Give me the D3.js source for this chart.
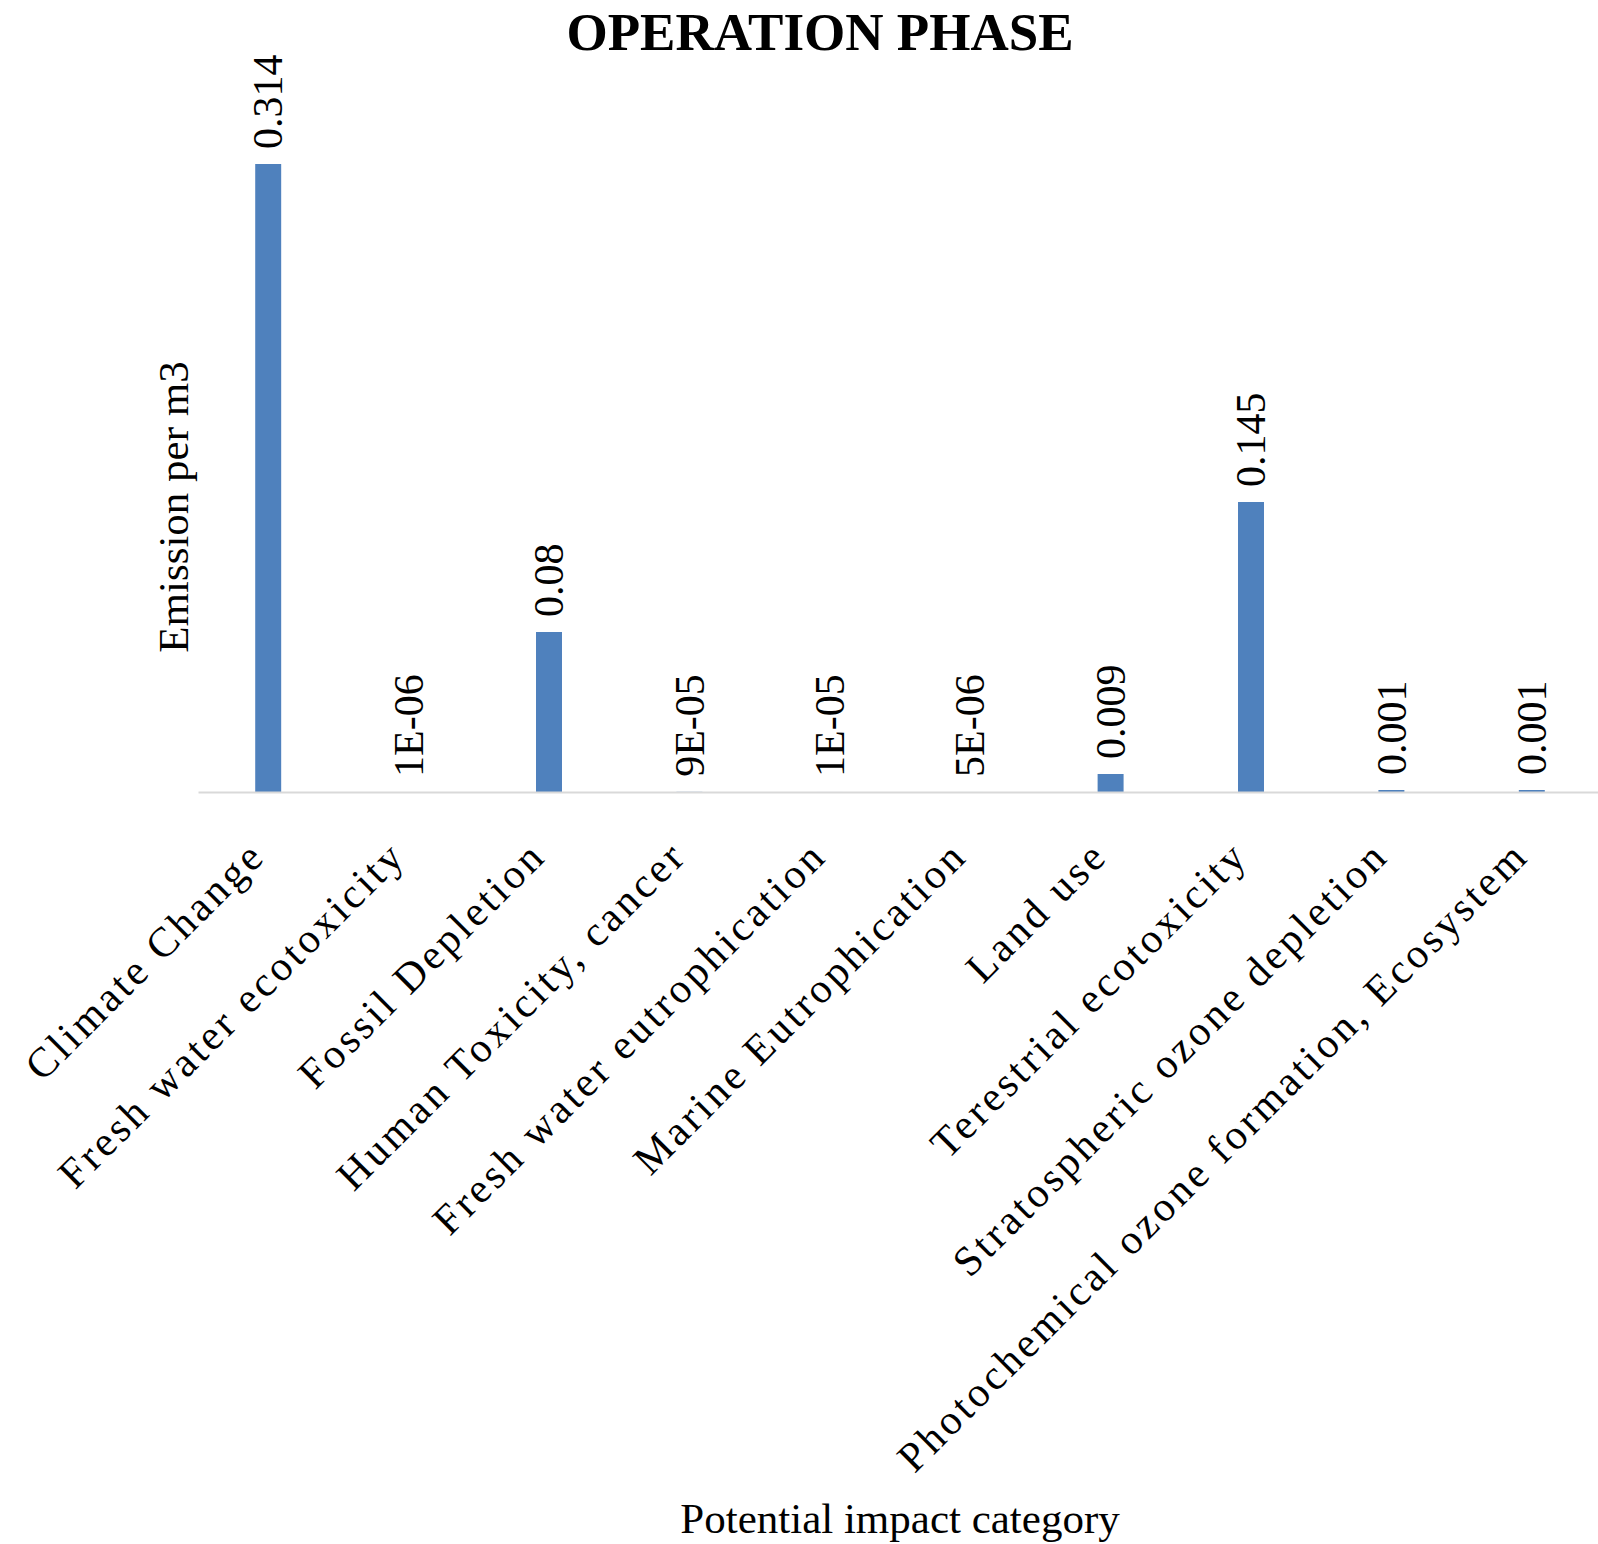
<!DOCTYPE html>
<html lang="en">
<head>
    <meta charset="UTF-8">
    <title>Operation Phase</title>
    <script src="https://d3js.org/d3.v7.min.js"></script>
    <style>
        body {
            margin: 0;
            background: #fff;
        }
        svg {
            display: block;
            font-family: "Liberation Serif", "Times New Roman", serif;
        }
        .bar {
            fill: #4f81bd;
        }
        .title {
            font-size: 53px;
            font-weight: bold;
        }
        .value-label {
            font-size: 42px;
        }
        .cat-label {
            font-size: 42px;
            letter-spacing: 3.3px;
        }
        .axis-title {
            font-size: 43px;
        }
    </style>
</head>
<body>
    <svg width="1598" height="1544"></svg>
    <script>
        // Chart data
        const categories = [
            "Climate Change",
            "Fresh water ecotoxicity",
            "Fossil Depletion",
            "Human Toxicity, cancer",
            "Fresh water eutrophication",
            "Marine Eutrophication",
            "Land use",
            "Terestrial ecotoxicity",
            "Stratospheric ozone depletion",
            "Photochemical ozone formation, Ecosystem"
        ];
        const values = [0.314, 0.000001, 0.08, 0.00009, 0.00001, 0.000005, 0.009, 0.145, 0.001, 0.001];
        const valueLabels = ["0.314", "1E-06", "0.08", "9E-05", "1E-05", "5E-06", "0.009", "0.145", "0.001", "0.001"];

        const svg = d3.select("svg");

        // Plot area
        const baseline = 792;
        const x = d3.scaleBand()
                    .domain(categories)
                    .range([198, 1602])
                    .paddingInner(0.815)
                    .paddingOuter(0.4075);

        const y = d3.scaleLinear()
                    .domain([0, 0.35])
                    .range([baseline, baseline - 700]);

        const data = categories.map((c, i) => ({ cat: c, value: values[i], label: valueLabels[i] }));

        // Title
        svg.append("text")
           .attr("class", "title")
           .attr("x", 820)
           .attr("y", 50)
           .attr("text-anchor", "middle")
           .text("OPERATION PHASE");

        // Bars
        svg.selectAll(".bar")
           .data(data)
           .enter().append("rect")
           .attr("class", "bar")
           .attr("x", d => x(d.cat))
           .attr("y", d => y(d.value))
           .attr("width", x.bandwidth())
           .attr("height", d => baseline - y(d.value));

        // Category axis line
        const xAxis = svg.append("g")
           .attr("transform", `translate(0,${baseline})`)
           .call(d3.axisBottom(x).tickSize(0).tickFormat(""));
        xAxis.select(".domain")
             .attr("stroke", "#d9d9d9")
             .attr("stroke-width", 2);

        // Value labels
        svg.selectAll(".value-label")
           .data(data)
           .enter().append("text")
           .attr("class", "value-label")
           .attr("transform", d => `translate(${x(d.cat) + x.bandwidth() / 2},${y(d.value) - 15}) rotate(-90)`)
           .attr("dy", "0.34em")
           .attr("text-anchor", "start")
           .text(d => d.label);

        // Category labels
        svg.selectAll(".cat-label")
           .data(data)
           .enter().append("text")
           .attr("class", "cat-label")
           .attr("transform", d => `translate(${x(d.cat) + x.bandwidth() / 2 - 1},${baseline + 66}) rotate(-45)`)
           .attr("text-anchor", "end")
           .text(d => d.cat);

        // Axis titles
        svg.append("text")
           .attr("class", "axis-title")
           .attr("x", 900)
           .attr("y", 1533)
           .attr("text-anchor", "middle")
           .text("Potential impact category");

        svg.append("text")
           .attr("class", "axis-title")
           .attr("transform", "translate(188,507) rotate(-90)")
           .attr("text-anchor", "middle")
           .text("Emission per m3");
    </script>
</body>
</html>
